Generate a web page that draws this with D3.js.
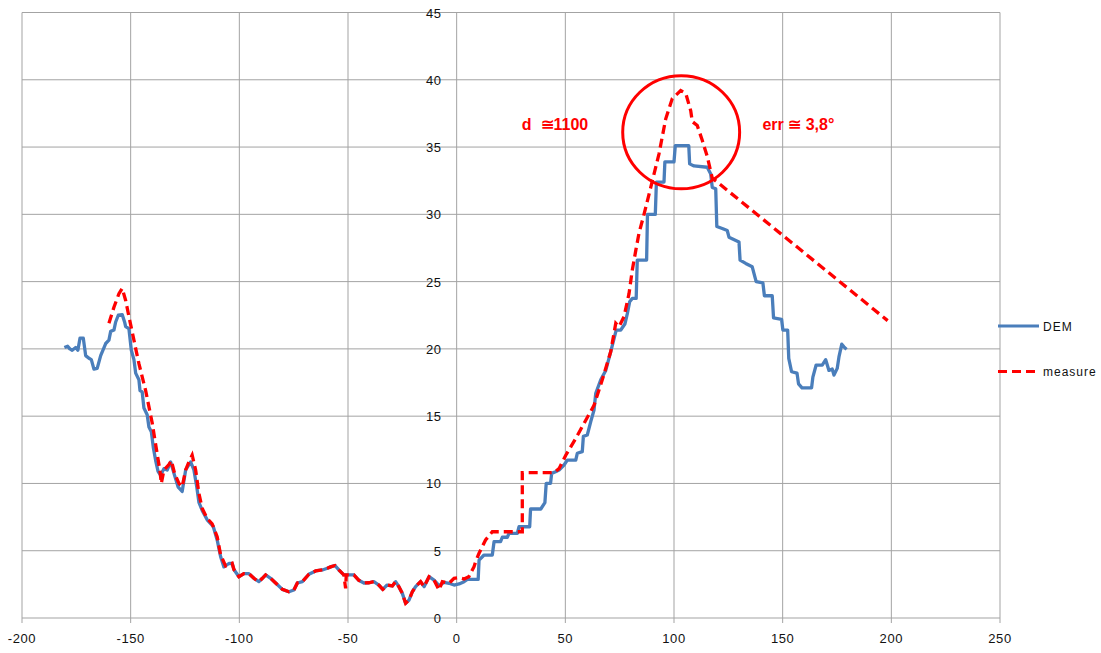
<!DOCTYPE html>
<html>
<head>
<meta charset="utf-8">
<script src="https://cdn.jsdelivr.net/npm/d3@7"></script>
<style>
  body { margin: 0; background: #fff; }
  svg { display: block; }
</style>
</head>
<body>
<div id="chart"></div>
<script>
// DEM profile (blue, stepped)
const demX = [-180.5, -179, -178, -176.9, -175.3, -174.3, -173.3, -171.8, -170.7, -169.2, -168.1, -166.9, -165.4, -163.8,
  -161.5, -160, -159.2, -157.7, -156.9, -155.7, -153.9, -152.8, -152.3, -150.8, -149.7, -148.5, -147.7, -146.2, -145.7,
  -144.7, -143.9, -142.4, -141.6, -140.5, -139.6, -138.5, -137.4, -136.2, -134.7, -133.2, -131.6, -129.8, -128.2, -126.3,
  -124.7, -122.4, -120.9, -119.6, -118.6, -117.1, -114.8, -112.0, -110.2, -108.6, -107.1, -104.8, -103.3, -102.5, -100.2,
  -97.9, -95.6, -93.3, -91.0, -89.4, -87.9, -85.6, -83.3, -80.2, -77.2, -74.9, -73.3, -71.0, -68.0, -64.9, -61.8, -59.5,
  -58.0, -56.0, -54.2, -51.9, -49.6, -47.3, -45.0, -42.7, -40.4, -38.1, -35.8, -34.0, -32.0, -29.6, -28.1, -26.6, -25.0,
  -23.5, -21.9, -20.4, -18.9, -16.6, -15.0, -12.7, -10.4, -8.1, -5.8, -3.5, -1.2, 1.1, 3.4, 4.9, 9.9, 10.3, 12.6, 16.4,
  17.2, 20.2, 21.0, 23.3, 24.1, 27.9, 28.7, 33.6, 34.0, 38.7, 40.6, 41.2, 43.2, 43.7, 45.5, 47.1, 49.4, 50.9, 54.8, 55.5,
  57.8, 58.3, 60.1, 61.7, 63.2, 64.0, 66.3, 68.6, 70.9, 73.4, 75.5, 77.4, 78.5, 79.6, 80.8, 82.6, 83.1, 87.4, 87.8, 91.4,
  91.9, 95.4, 95.8, 100.0, 100.6, 106.8, 107.2, 109.2, 115.3, 116.9, 117.6, 119.2, 119.7, 122.2, 124.5, 125.3, 129.9,
  130.4, 133.0, 136.0, 137.8, 140.9, 141.6, 145.2, 145.8, 149.5, 150.1, 152.3, 152.8, 154.1, 156.6, 157.3, 158.9, 163.3,
  163.9, 165.4, 168.2, 169.8, 171.3, 172.8, 173.6, 175.1, 175.9, 177.2, 178.2, 179.4];
const demY = [20.1, 20.2, 20.0, 19.9, 20.1, 19.9, 20.8, 20.8, 19.5, 19.3, 19.2, 18.5, 18.55, 19.5,
  20.4, 20.65, 21.3, 21.4, 22.0, 22.5, 22.55, 22.0, 21.65, 21.5, 19.9, 19.2, 18.2, 17.7, 16.9,
  16.8, 15.6, 15.1, 14.2, 13.85, 12.7, 11.7, 10.9, 10.6, 11.1, 11.0, 11.6, 10.6, 9.75, 9.4,
  11.0, 11.6, 11.0, 9.75, 8.6, 8.0, 7.3, 6.8, 5.8, 4.55, 3.8, 4.05, 4.06, 3.6, 3.07,
  3.3, 3.3, 2.95, 2.7, 2.95, 3.2, 2.95, 2.6, 2.13, 1.95, 2.08, 2.6, 2.7, 3.25, 3.5, 3.57, 3.7,
  3.8, 3.9, 3.57, 3.2, 3.2, 3.2, 2.8, 2.6, 2.62, 2.7, 2.45, 2.13, 2.45, 2.38, 2.7, 2.33, 1.83,
  1.09, 1.34, 1.95, 2.33, 2.7, 2.33, 3.07, 2.82, 2.4, 2.65, 2.58, 2.45, 2.53, 2.7, 2.87, 2.87, 4.3, 4.68, 4.68,
  5.67, 5.67, 6.0, 6.0, 6.29, 6.29, 6.78, 6.78, 8.1, 8.1, 8.57, 10.0, 10.0, 10.75, 10.87, 11.0, 11.37, 11.74, 11.74, 12.24,
  12.36, 13.5, 13.6, 14.6, 15.45, 16.7, 17.7, 18.4, 19.8, 21.4, 21.4, 21.85, 22.6, 23.5, 23.75, 23.75, 26.6, 26.6, 30.0, 30.0,
  32.4, 32.4, 33.9, 33.9, 35.1, 35.1, 33.75, 33.6, 33.5, 33.0, 32.0, 31.9, 29.1, 28.95, 28.8, 28.3, 27.95,
  26.6, 26.35, 26.1, 25.0, 24.9, 23.95, 23.95, 22.3, 22.2, 21.4, 21.4, 19.3, 18.3, 18.2, 17.4, 17.1, 17.1,
  17.9, 18.8, 18.8, 19.2, 18.4, 18.5, 18.05, 18.55, 19.4, 20.35, 20.15, 19.96];

// measured profile (red, dashed)
const measureX = [-160, -157.7, -155.4, -153.9, -152.3, -150.8, -148.5, -146.2, -143.1, -140.1, -137.8, -136.5, -135.9,
  -134.7, -132.4, -131.3, -129.8, -127.8, -126.3, -124.7, -123.2, -121.7, -120.1, -118.6, -117.1, -114.8, -112.5, -110.2,
  -108.6, -106.3, -104.8, -103.3, -102.5, -100.2, -97.9, -95.6, -93.3, -91.0, -89.4, -87.9, -85.6, -83.3, -80.2, -77.2,
  -74.9, -73.3, -71.0, -68.0, -64.9, -61.8, -59.5, -58.0, -56.0, -54.2, -51.9, -51.1, -50.8, -49.6, -47.3, -45.0, -42.7,
  -40.4, -38.1, -35.8, -34.0, -32.0, -29.6, -28.1, -26.6, -25.0, -23.5, -21.9, -20.4, -18.9, -16.6, -15.0, -12.7, -10.4,
  -8.1, -6.6, -3.5, -1.2, 1.1, 3.4, 5.6, 7.2, 8.0, 8.7, 10.3, 13.3, 16.4, 30.2, 30.2, 44.8, 47.1, 50.2, 54.8, 59.4, 63.2,
  67.0, 70.9, 73.2, 74.7, 77.0, 79.3, 80.8, 82.4, 83.9, 86.2, 89.3, 93.1, 96.2, 99.2, 103.1, 105.4, 107.7, 108.4, 110.7,
  113.0, 115.3, 117.6, 198.3];
const measureY = [21.9, 23.1, 24.1, 24.5, 23.6, 22.4, 20.65, 18.9, 16.9, 14.5, 12.2, 10.9, 10.0,
  11.0, 11.4, 11.7, 10.75, 10.0, 9.75, 11.0, 11.6, 12.1, 11.0, 9.26, 8.15, 7.4, 7.0, 6.04,
  4.68, 3.86, 3.94, 4.06, 3.6, 3.07, 3.3, 3.3, 2.95, 2.7, 2.95, 3.2, 2.95, 2.6, 2.13, 1.95,
  2.08, 2.6, 2.7, 3.25, 3.5, 3.57, 3.7, 3.8, 3.9, 3.57, 3.2, 2.2, 3.2, 3.2, 3.2, 2.8, 2.6,
  2.62, 2.7, 2.45, 2.13, 2.45, 2.38, 2.7, 2.33, 1.83, 1.09, 1.34, 1.95, 2.33, 2.7, 2.33, 3.07, 2.82,
  2.08, 2.7, 2.58, 2.95, 3.0, 2.9, 3.07, 3.57, 3.81, 4.18, 4.81, 5.8, 6.41, 6.41, 10.8, 10.8, 11.1, 12.1, 13.35, 14.7, 15.8,
  17.7, 19.8, 21.9, 21.65, 22.4, 24.1, 25.85, 27.3, 28.6, 30.0, 32.0, 34.5, 37.1, 38.6, 39.2, 39.0, 37.7, 36.9, 36.6,
  35.5, 34.3, 32.7, 22.1];

const xTicks = [-200, -150, -100, -50, 0, 50, 100, 150, 200, 250];
const yTicks = [0, 5, 10, 15, 20, 25, 30, 35, 40, 45];
const seriesNames = ["DEM", "measure"];
const seriesColors = ["#4a7ebb", "#ff0000"];

function drawChart() {
  const width = 1101, height = 653;
  const left = 22, right = 1000, top = 12.5, bottom = 618;

  const svg = d3.select("#chart").append("svg")
    .attr("width", width)
    .attr("height", height);

  const x = d3.scaleLinear().domain([-200, 250]).range([left, right]);
  const y = d3.scaleLinear().domain([0, 45]).range([bottom, top]);

  // grid
  svg.append("g").selectAll("line")
    .data(xTicks)
    .enter().append("line")
    .attr("x1", d => x(d)).attr("x2", d => x(d))
    .attr("y1", y(45)).attr("y2", y(0))
    .attr("stroke", "#a3a3a3")
    .attr("stroke-width", 1);

  svg.append("g").selectAll("line")
    .data(yTicks)
    .enter().append("line")
    .attr("x1", x(-200)).attr("x2", x(250))
    .attr("y1", d => y(d)).attr("y2", d => y(d))
    .attr("stroke", "#a3a3a3")
    .attr("stroke-width", 1);

  // x axis ticks + labels
  svg.append("g").selectAll("line")
    .data(xTicks)
    .enter().append("line")
    .attr("x1", d => x(d)).attr("x2", d => x(d))
    .attr("y1", y(0)).attr("y2", y(0) + 5)
    .attr("stroke", "#a3a3a3");

  svg.append("g").selectAll("text")
    .data(xTicks)
    .enter().append("text")
    .attr("x", d => x(d))
    .attr("y", y(0) + 25)
    .attr("text-anchor", "middle")
    .attr("font-family", "Liberation Sans, Arial, sans-serif")
    .attr("font-size", "13px")
    .attr("letter-spacing", "0.6px")
    .attr("fill", "#111")
    .text(d => d);

  // y labels sit on the x = 0 line
  svg.append("g").selectAll("text")
    .data(yTicks)
    .enter().append("text")
    .attr("x", x(0) - 15)
    .attr("y", d => y(d) + 5)
    .attr("text-anchor", "end")
    .attr("font-family", "Liberation Sans, Arial, sans-serif")
    .attr("font-size", "13px")
    .attr("letter-spacing", "0.6px")
    .attr("fill", "#111")
    .text(d => d);

  const line = d3.line()
    .x(d => x(d[0]))
    .y(d => y(d[1]));

  const dem = demX.map((v, i) => [v, demY[i]]);
  const measure = measureX.map((v, i) => [v, measureY[i]]);

  svg.append("path")
    .datum(dem)
    .attr("d", line)
    .attr("fill", "none")
    .attr("stroke", seriesColors[0])
    .attr("stroke-width", 3.3)
    .attr("stroke-linejoin", "round");

  svg.append("path")
    .datum(measure)
    .attr("d", line)
    .attr("fill", "none")
    .attr("stroke", seriesColors[1])
    .attr("stroke-width", 3.3)
    .attr("stroke-dasharray", "9,5");

  // annotation: circle round the peak and the two notes
  svg.append("ellipse")
    .attr("cx", x(103.3))
    .attr("cy", y(36.1))
    .attr("rx", x(103.3 + 26.9) - x(103.3))
    .attr("ry", y(36.1) - y(36.1 + 4.2))
    .attr("fill", "none")
    .attr("stroke", "#ff0000")
    .attr("stroke-width", 3);

  const notes = [[30.0, "d\u00a0\u00a0\u22451100"], [140.7, "err \u2245 3,8\u00b0"]];
  svg.append("g").selectAll("text")
    .data(notes)
    .enter().append("text")
    .attr("x", d => x(d[0]))
    .attr("y", y(36.25))
    .attr("font-family", "Liberation Sans, Arial, sans-serif")
    .attr("font-size", "16px")
    .attr("font-weight", "bold")
    .attr("fill", "#ff0000")
    .text(d => d[1]);

  // legend
  const legend = svg.append("g").attr("transform", "translate(998,326)");
  seriesNames.forEach((name, i) => {
    legend.append("line")
      .attr("x1", 0).attr("x2", 41)
      .attr("y1", i * 45.5).attr("y2", i * 45.5)
      .attr("stroke", seriesColors[i])
      .attr("stroke-width", 3)
      .attr("stroke-dasharray", i === 1 ? "9,5" : null);
    legend.append("text")
      .attr("x", 45)
      .attr("y", i * 45.5 + 4.5)
      .attr("font-family", "Liberation Sans, Arial, sans-serif")
      .attr("font-size", "12px")
      .attr("letter-spacing", "1px")
      .attr("fill", "#111")
      .text(name);
  });
}

drawChart();
</script>
</body>
</html>
